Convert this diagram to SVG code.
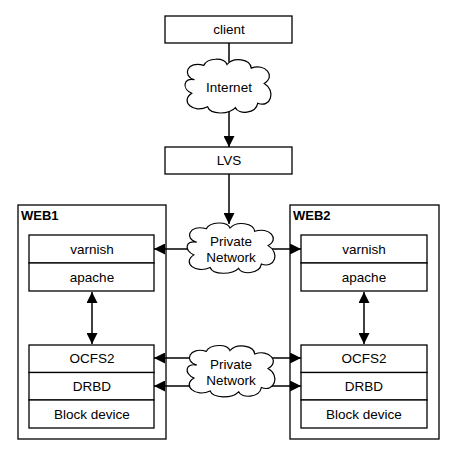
<svg xmlns="http://www.w3.org/2000/svg" xmlns:xlink="http://www.w3.org/1999/xlink" width="456" height="456" viewBox="0 0 456 456">
<style>
text{font-family:"Liberation Sans",Arial,sans-serif;font-size:13.5px;fill:#000;text-anchor:middle}
.title{font-weight:bold;text-anchor:start;font-size:13px}
.box{fill:#fff;stroke:#000;stroke-width:1.3}
.frame{fill:none;stroke:#000;stroke-width:1.3}
.cloud{fill:#fff;stroke:#000;stroke-width:1.3}
.conn{fill:none;stroke:#000;stroke-width:1.5}
</style>
<defs>
<marker id="ah" viewBox="0 0 10 10" refX="10" refY="5" markerWidth="11" markerHeight="11" markerUnits="userSpaceOnUse" orient="auto-start-reverse">
<path d="M0,0 L10,5 L0,10 Z" fill="#000"/>
</marker>
<path id="cloudshape" d="M -36,-8 C -50,-12 -44,-30 -26,-24 C -22,-33 -4,-33 -1,-25 C 6,-34 24,-31 25,-21 C 40,-27 52,-12 39,-4 C 52,4 46,24 32,18 C 30,30 11,31 8,23 C 1,31 -19,31 -22,22 C -37,30 -52,16 -39,7 C -50,2 -48,-11 -36,-8 Z"/>
</defs>
<g id="connectors">
<line class="conn" x1="229" y1="43" x2="229" y2="62"/>
<line class="conn" x1="229" y1="112" x2="229" y2="147" marker-end="url(#ah)"/>
<line class="conn" x1="229" y1="174" x2="229" y2="224" marker-end="url(#ah)"/>
<line class="conn" x1="192" y1="249" x2="154" y2="249" marker-end="url(#ah)"/>
<line class="conn" x1="268" y1="249" x2="301" y2="249" marker-end="url(#ah)"/>
<line class="conn" x1="192" y1="358" x2="154" y2="358" marker-end="url(#ah)"/>
<line class="conn" x1="192" y1="386" x2="154" y2="386" marker-end="url(#ah)"/>
<line class="conn" x1="268" y1="358" x2="301" y2="358" marker-end="url(#ah)"/>
<line class="conn" x1="268" y1="386" x2="301" y2="386" marker-end="url(#ah)"/>
<line class="conn" x1="92" y1="292" x2="92" y2="344" marker-start="url(#ah)" marker-end="url(#ah)"/>
<line class="conn" x1="364" y1="292" x2="364" y2="344" marker-start="url(#ah)" marker-end="url(#ah)"/>
</g>
<g id="client">
<rect class="box" x="165" y="16" width="127" height="27"/>
<text x="229" y="34">client</text>
</g>
<g id="internet">
<use xlink:href="#cloudshape" class="cloud" transform="translate(228,87) scale(0.93,0.9)"/>
<text x="229" y="92">Internet</text>
</g>
<g id="lvs">
<rect class="box" x="165" y="147" width="127" height="27"/>
<text x="229" y="165">LVS</text>
</g>
<g id="web1">
<rect class="frame" x="18" y="205" width="148" height="234"/>
<text class="title" x="21" y="220">WEB1</text>
</g>
<g id="web1-varnish">
<rect class="box" x="29" y="235" width="125" height="28"/>
<text x="92" y="254">varnish</text>
</g>
<g id="web1-apache">
<rect class="box" x="29" y="263" width="125" height="28"/>
<text x="92" y="282">apache</text>
</g>
<g id="web1-ocfs2">
<rect class="box" x="29" y="345" width="125" height="27.5"/>
<text x="92" y="363">OCFS2</text>
</g>
<g id="web1-drbd">
<rect class="box" x="29" y="372.5" width="125" height="27.5"/>
<text x="92" y="391">DRBD</text>
</g>
<g id="web1-block">
<rect class="box" x="29" y="400" width="125" height="28"/>
<text x="92" y="419">Block device</text>
</g>
<g id="web2">
<rect class="frame" x="290" y="205" width="149" height="234"/>
<text class="title" x="293" y="220">WEB2</text>
</g>
<g id="web2-varnish">
<rect class="box" x="301" y="235" width="126" height="28"/>
<text x="364" y="254">varnish</text>
</g>
<g id="web2-apache">
<rect class="box" x="301" y="263" width="126" height="28"/>
<text x="364" y="282">apache</text>
</g>
<g id="web2-ocfs2">
<rect class="box" x="301" y="345" width="126" height="27.5"/>
<text x="364" y="363">OCFS2</text>
</g>
<g id="web2-drbd">
<rect class="box" x="301" y="372.5" width="126" height="27.5"/>
<text x="364" y="391">DRBD</text>
</g>
<g id="web2-block">
<rect class="box" x="301" y="400" width="126" height="28"/>
<text x="364" y="419">Block device</text>
</g>
<g id="private-network-1">
<use xlink:href="#cloudshape" class="cloud" transform="translate(231,249) scale(0.95,0.84)"/>
<text x="231" y="246">Private</text>
<text x="231" y="262">Network</text>
</g>
<g id="private-network-2">
<use xlink:href="#cloudshape" class="cloud" transform="translate(231,372) scale(0.95,0.86)"/>
<text x="231" y="369">Private</text>
<text x="231" y="385">Network</text>
</g>
</svg>
